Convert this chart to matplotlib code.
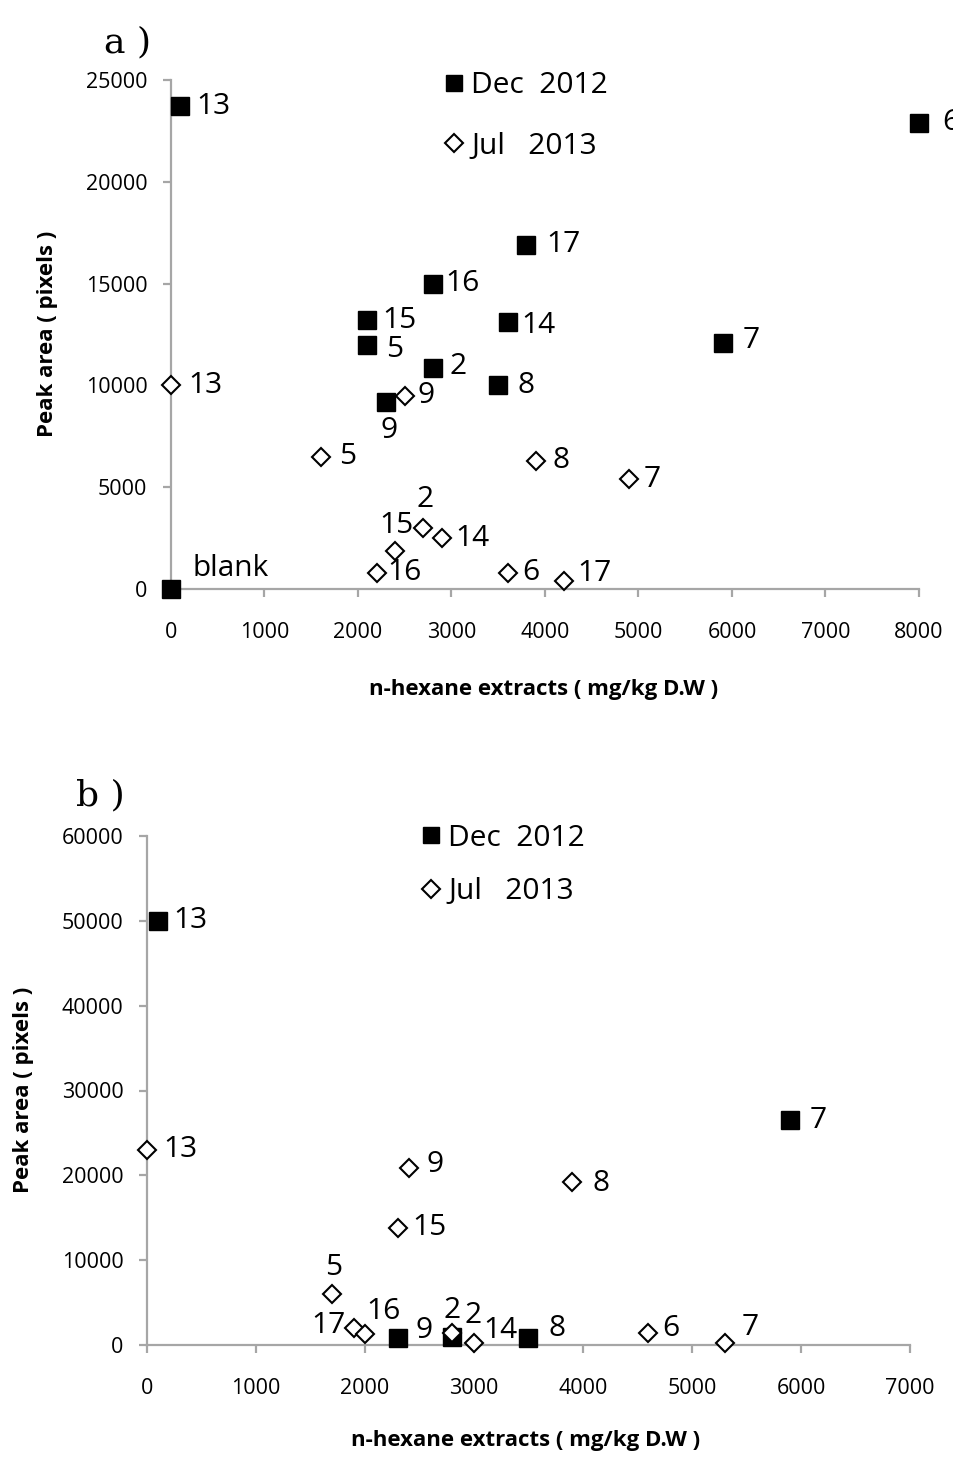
import matplotlib
matplotlib.use("Agg")
import matplotlib.pyplot as plt
from matplotlib.lines import Line2D

plt.rcParams['font.family'] = ['Open Sans', 'DejaVu Sans']

# ---------------- data: panel a ----------------
a_dec_labels = ["13", "6", "17", "16", "15", "14", "5", "7", "2", "8", "9", "blank"]
a_dec_x = [100, 8000, 3800, 2800, 2100, 3600, 2100, 5900, 2800, 3500, 2300, 0]
a_dec_y = [23700, 22900, 16900, 15000, 13200, 13100, 12000, 12100, 10850, 10000, 9200, 0]

a_jul_labels = ["13", "9", "5", "8", "7", "2", "14", "15", "16", "6", "17"]
a_jul_x = [0, 2500, 1600, 3900, 4900, 2700, 2900, 2400, 2200, 3600, 4200]
a_jul_y = [10000, 9500, 6500, 6300, 5400, 3000, 2500, 1850, 800, 800, 400]

# ---------------- data: panel b ----------------
b_dec_labels = ["13", "7", "9", "2", "8"]
b_dec_x = [100, 5900, 2300, 2800, 3500]
b_dec_y = [50000, 26500, 800, 900, 800]

b_jul_labels = ["13", "9", "8", "15", "5", "17", "16", "2", "14", "6", "7"]
b_jul_x = [0, 2400, 3900, 2300, 1700, 1900, 2000, 2800, 3000, 4600, 5300]
b_jul_y = [23000, 20900, 19200, 13800, 6000, 2000, 1300, 1400, 200, 1400, 200]

series_names = ["Dec  2012", "Jul   2013"]
x_label = "n-hexane extracts ( mg/kg D.W )"
y_label = "Peak area ( pixels )"

# ---------------- label offsets (pixels: dx, dy up, ha) ----------------
a_dec_off = [(16, 0, 'left'), (23, 0, 'left'), (20, 0, 'left'), (13, 0, 'left'),
             (15, 0, 'left'), (14, -3, 'left'), (19, -5, 'left'), (20, 2, 'left'),
             (17, 2, 'left'), (19, 0, 'left'), (3, -29, 'center'), (22, 20, 'left')]
a_jul_off = [(17, 0, 'left'), (13, 0, 'left'), (18, 0, 'left'), (17, 0, 'left'),
             (14, 0, 'left'), (2, 28, 'center'), (13, 0, 'left'), (1, 26, 'center'),
             (11, 0, 'left'), (15, 0, 'left'), (14, 7, 'left')]
b_dec_off = [(15, 0, 'left'), (20, 0, 'left'), (18, 8, 'left'), (12, 22, 'left'),
             (20, 10, 'left')]
b_jul_off = [(16, 0, 'left'), (18, 3, 'left'), (20, -1, 'left'), (15, 0, 'left'),
             (1, 27, 'center'), (-9, 3, 'right'), (1, 22, 'left'), (0, 23, 'center'),
             (9, 13, 'left'), (14, 5, 'left'), (17, 16, 'left')]

PX = 72.0 / 100.0  # points per pixel
GRAY = '#a6a6a6'
LABEL_FS = 21.5
TICK_FS = 15.5
AXLABEL_FS = 16

fig = plt.figure(figsize=(9.54, 14.61), dpi=100)


def style_axes(ax, xmax, ymax, ystep):
    ax.set_xlim(0, xmax)
    ax.set_ylim(0, ymax)
    ax.set_xticks(range(0, xmax + 1, 1000))
    ax.set_yticks(range(0, ymax + 1, ystep))
    for s in ['top', 'right']:
        ax.spines[s].set_visible(False)
    for s in ['left', 'bottom']:
        ax.spines[s].set_color(GRAY)
        ax.spines[s].set_linewidth(1.6)
    ax.tick_params(axis='both', direction='out', color=GRAY, width=1.6,
                   length=6, labelsize=TICK_FS, labelcolor='black')
    ax.tick_params(axis='x', pad=18)
    ax.tick_params(axis='y', pad=11)
    ax.set_xlabel(x_label, fontsize=AXLABEL_FS, fontweight='bold')
    ax.set_ylabel(y_label, fontsize=AXLABEL_FS, fontweight='bold')


def draw(ax, x, y, labels, offs, filled):
    if filled:
        ax.plot(x, y, linestyle='none', marker='s', markersize=13,
                markerfacecolor='black', markeredgecolor='black', clip_on=False, zorder=3)
    else:
        ax.plot(x, y, linestyle='none', marker='D', markersize=9.5,
                markerfacecolor='white', markeredgecolor='black', markeredgewidth=1.5,
                clip_on=False, zorder=3)
    for xi, yi, lab, (dx, dy, ha) in zip(x, y, labels, offs):
        ax.annotate(lab, (xi, yi), xytext=(dx * PX, dy * PX), textcoords='offset points',
                    ha=ha, va='center', fontsize=LABEL_FS, annotation_clip=False)


def legend(ax, anchor, spacing):
    handles = [
        Line2D([], [], linestyle='none', marker='s', markersize=12,
               markerfacecolor='black', markeredgecolor='black'),
        Line2D([], [], linestyle='none', marker='D', markersize=9.5,
               markerfacecolor='white', markeredgecolor='black', markeredgewidth=1.5),
    ]
    ax.legend(handles, series_names, loc='center left', bbox_to_anchor=anchor,
              frameon=False, fontsize=LABEL_FS, handlelength=0.75, handletextpad=0.2,
              labelspacing=spacing, borderpad=0, borderaxespad=0)


# panel a
axa = fig.add_axes([171 / 954, 1 - 589 / 1461, 748 / 954, 509 / 1461])
style_axes(axa, 8000, 25000, 5000)
draw(axa, a_dec_x, a_dec_y, a_dec_labels, a_dec_off, True)
draw(axa, a_jul_x, a_jul_y, a_jul_labels, a_jul_off, False)
legend(axa, ((443 - 171) / 748, (589 - 116) / 509), 1.05)
axa.xaxis.set_label_coords((544 - 171) / 748, -(679 - 589) / 509)
axa.yaxis.set_label_coords(-(171 - 58) / 748, (589 - 334) / 509)
fig.text(128 / 954, 1 - 42 / 1461, "a )", fontsize=26, family='DejaVu Serif',
         ha='center', va='center')

# panel b
axb = fig.add_axes([147 / 954, 1 - 1345 / 1461, 763 / 954, 509 / 1461])
style_axes(axb, 7000, 60000, 10000)
draw(axb, b_dec_x, b_dec_y, b_dec_labels, b_dec_off, True)
draw(axb, b_jul_x, b_jul_y, b_jul_labels, b_jul_off, False)
legend(axb, ((420 - 147) / 763, (1345 - 865) / 509), 0.82)
axb.xaxis.set_label_coords((526 - 147) / 763, -(1430 - 1345) / 509)
axb.yaxis.set_label_coords(-(147 - 34) / 763, (1345 - 1090) / 509)
fig.text(100 / 954, 1 - 795 / 1461, "b )", fontsize=26, family='DejaVu Serif',
         ha='center', va='center')

fig.savefig("out.png", dpi=100)
